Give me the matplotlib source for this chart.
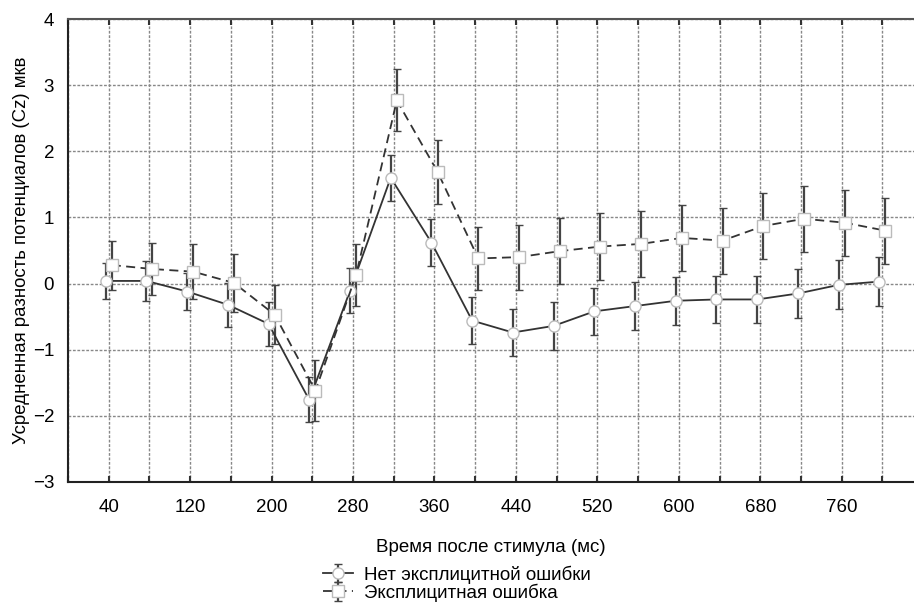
import numpy as np
import matplotlib
matplotlib.use("Agg")
import matplotlib.pyplot as plt
from matplotlib.ticker import MultipleLocator

plt.rcParams['font.family'] = ['Liberation Sans', 'DejaVu Sans']

# time after stimulus, ms
time_ms = np.arange(40, 801, 40)

# no explicit error: mean and confidence half-width
no_err_mean = [0.04, 0.04, -0.12, -0.32, -0.61, -1.76, -0.11, 1.60, 0.62, -0.56,
               -0.74, -0.64, -0.42, -0.34, -0.26, -0.24, -0.24, -0.15, -0.02, 0.03]
no_err_ci = [0.27, 0.30, 0.28, 0.33, 0.33, 0.34, 0.34, 0.35, 0.35, 0.36,
             0.36, 0.36, 0.36, 0.36, 0.36, 0.36, 0.36, 0.37, 0.37, 0.37]

# explicit error
expl_mean = [0.28, 0.22, 0.18, 0.01, -0.47, -1.62, 0.13, 2.77, 1.69, 0.38,
             0.40, 0.49, 0.56, 0.60, 0.69, 0.65, 0.87, 0.98, 0.92, 0.80]
expl_ci = [0.37, 0.40, 0.42, 0.44, 0.45, 0.46, 0.47, 0.47, 0.48, 0.48,
           0.49, 0.50, 0.50, 0.50, 0.50, 0.50, 0.50, 0.50, 0.50, 0.50]

labels = ['Нет эксплицитной ошибки', 'Эксплицитная ошибка']

fig = plt.figure(figsize=(9.14, 6.06), dpi=100)
ax = fig.add_axes([68 / 914, 124 / 606, 1 - 68 / 914, 463 / 606])

dodge = 3
line_col = '#333333'
h1 = ax.errorbar(time_ms - dodge, no_err_mean, yerr=no_err_ci, color=line_col, lw=1.3,
                 ecolor='#444444', elinewidth=1.6, capsize=3, capthick=1.3,
                 marker='o', ms=8, mfc='white', mec='#bbbbbb', mew=1, zorder=3,
                 label=labels[0])
h2 = ax.errorbar(time_ms + dodge, expl_mean, yerr=expl_ci, color=line_col, lw=1.3,
                 ls=(0, (5, 3)), ecolor='#444444', elinewidth=1.6, capsize=3, capthick=1.3,
                 marker='s', ms=8, mfc='white', mec='#bbbbbb', mew=1, zorder=3,
                 label=labels[1])

ax.set_xlim(0, 831)
ax.set_ylim(-3, 4)
ax.set_xticks(np.arange(40, 801, 80))
ax.xaxis.set_minor_locator(MultipleLocator(40))
ax.yaxis.set_major_locator(MultipleLocator(1))
ax.set_yticklabels([f'{v:g}'.replace('-', '\u2212') for v in ax.get_yticks()])
ax.grid(True, which='both', axis='x', ls=(0, (2, 1.2)), color='#888888', lw=1)
ax.grid(True, which='major', axis='y', ls=(0, (2, 1.2)), color='#888888', lw=1)
ax.set_axisbelow(True)

ax.spines['right'].set_visible(False)
for s in ('left', 'bottom', 'top'):
    ax.spines[s].set_color('#222222')
    ax.spines[s].set_linewidth(1.5)
ax.spines['top'].set_color('#555555')
ax.tick_params(axis='x', which='both', direction='in', top=True, length=4,
               width=1.5, color='#333333', labelsize=13.5, pad=12)
ax.tick_params(axis='y', length=0, labelsize=13.5, pad=10)

ax.set_xlabel('Время после стимула (мс)', fontsize=13.5, labelpad=17)
ax.set_ylabel('Усредненная разность потенциалов (Cz) мкв', fontsize=13.4)
ax.yaxis.set_label_coords(-0.045, 0.5)

fig.legend(handles=[h1, h2], labels=labels, loc='center', bbox_to_anchor=(0.5, 0.037),
           frameon=False, fontsize=13.5, handlelength=1.6, handletextpad=0.6,
           labelspacing=0.0, borderpad=0)

fig.savefig('out.png', dpi=100)
